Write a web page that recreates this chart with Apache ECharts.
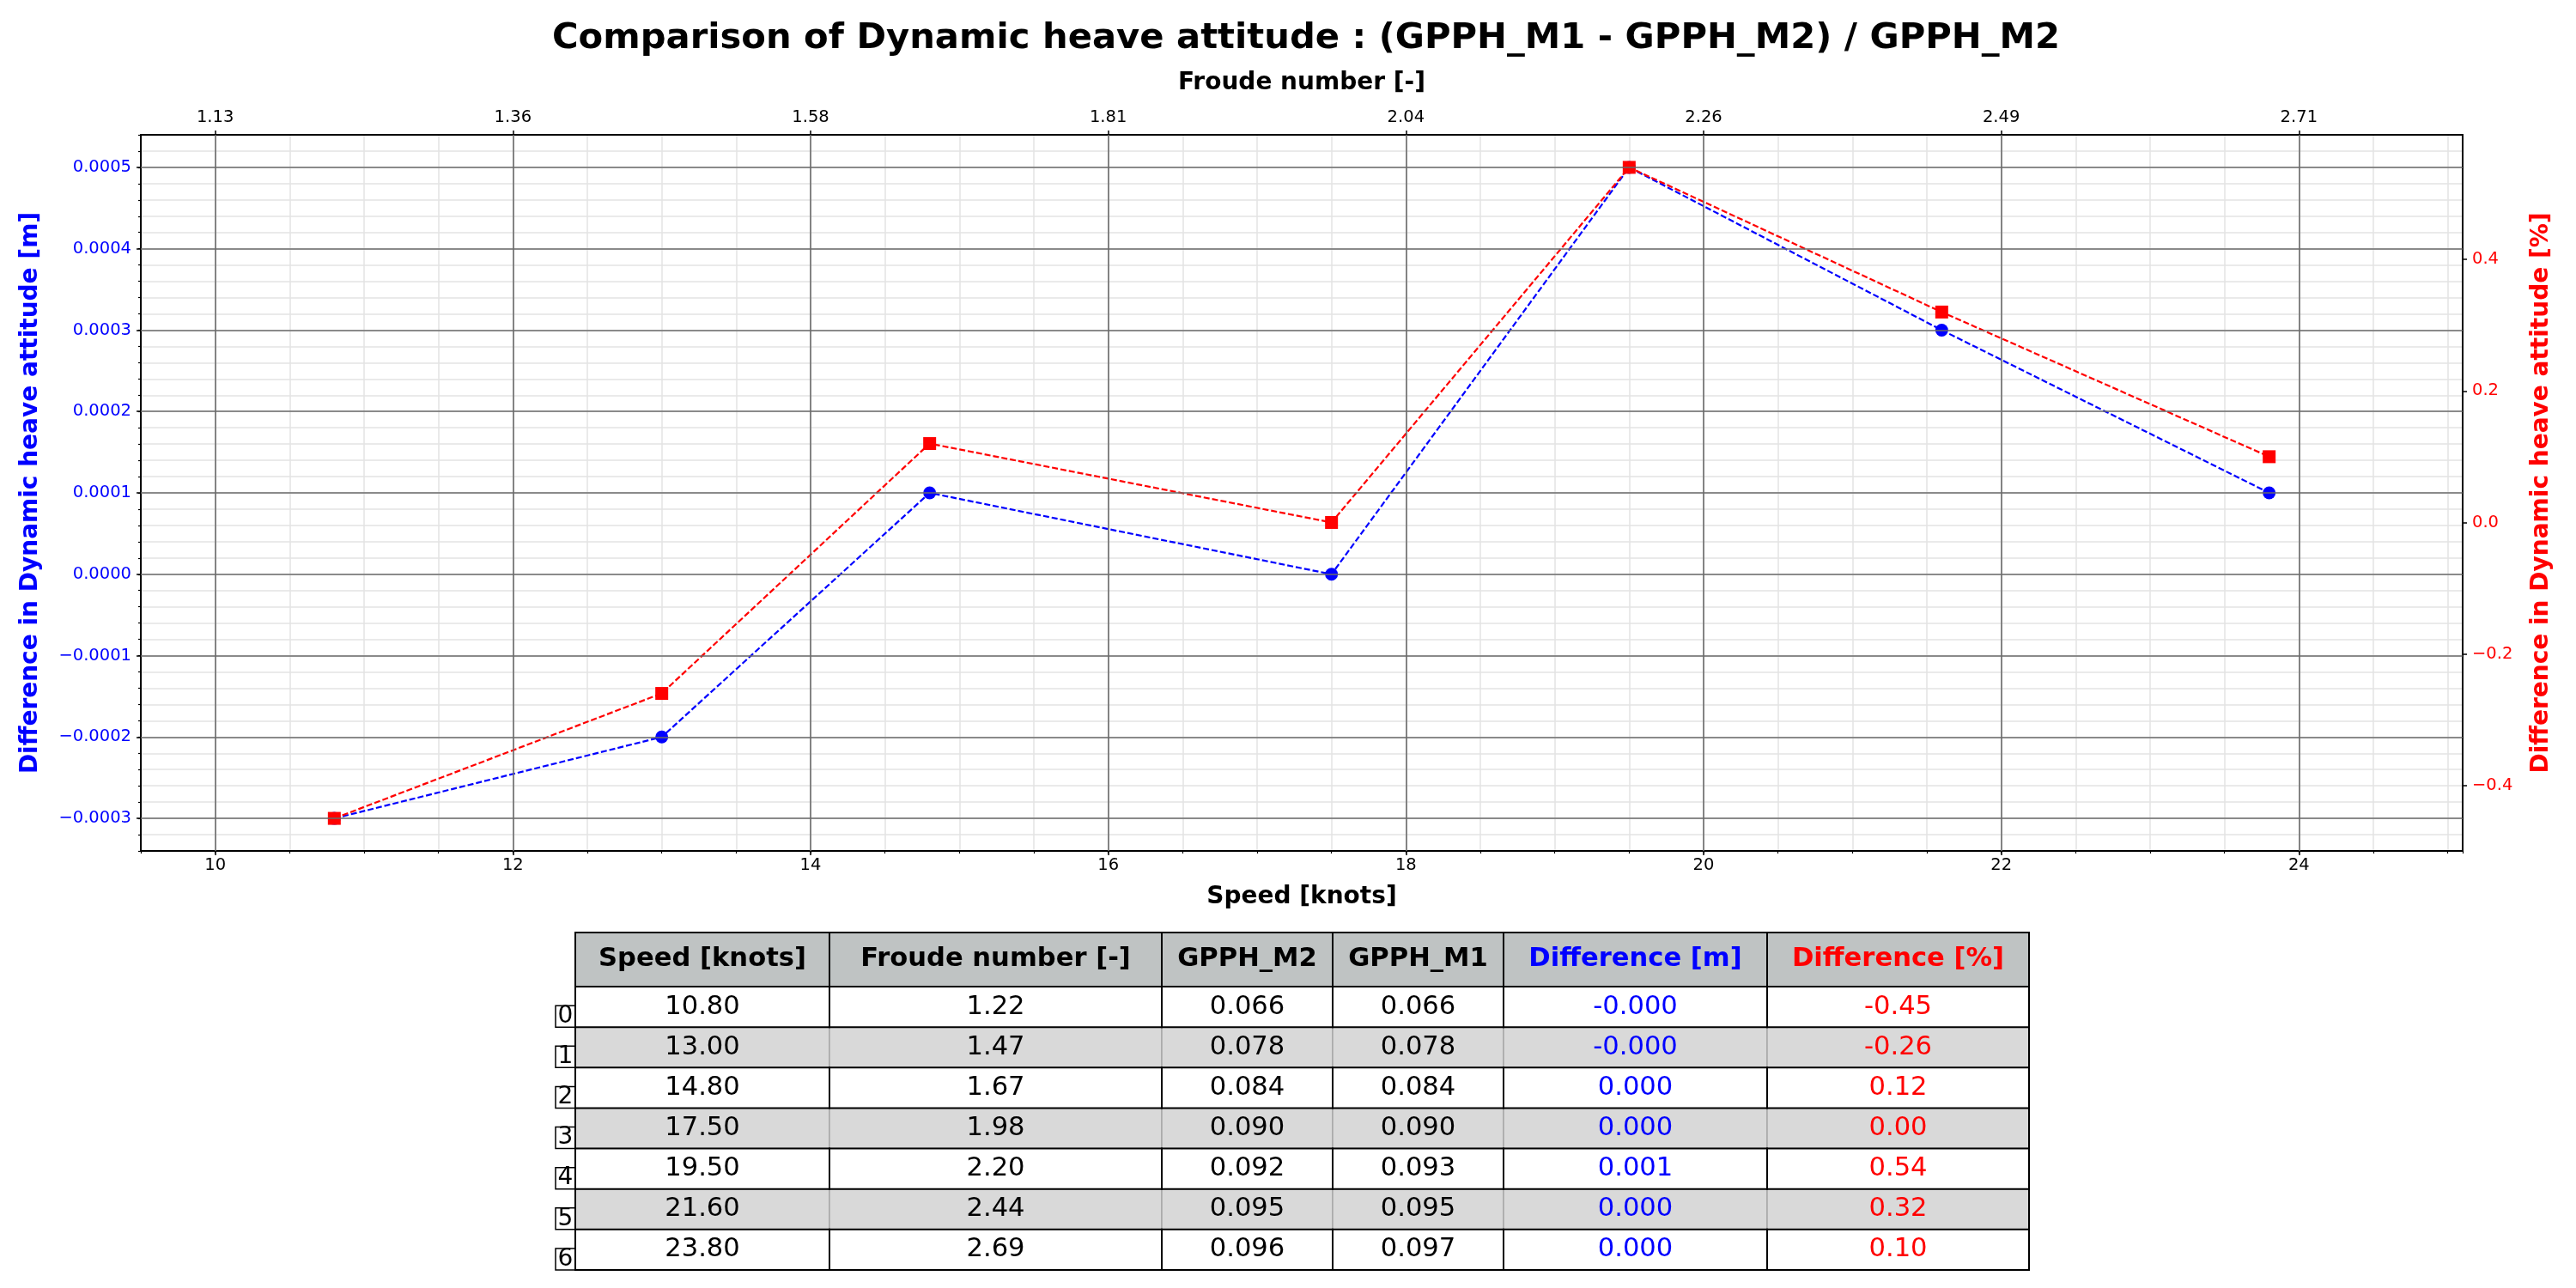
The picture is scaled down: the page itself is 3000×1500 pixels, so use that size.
<!DOCTYPE html>
<html><head><meta charset="utf-8">
<script src="https://cdn.jsdelivr.net/npm/echarts@6/dist/echarts.min.js"></script>
<style>html,body{margin:0;padding:0;background:#fff}#c{width:3000px;height:1500px}</style>
</head><body><div id="c"></div>
<script>
// ---- data ----
const speeds = [10.8, 13.0, 14.8, 17.5, 19.5, 21.6, 23.8];
const froude = [1.22, 1.47, 1.67, 1.98, 2.20, 2.44, 2.69];
const gpphM2 = [0.066, 0.078, 0.084, 0.090, 0.092, 0.095, 0.096];
const gpphM1 = [0.066, 0.078, 0.084, 0.090, 0.093, 0.095, 0.097];
const diffM = [-0.0003, -0.0002, 0.0001, 0.0000, 0.0005, 0.0003, 0.0001];
const diffPct = [-0.45, -0.26, 0.12, 0.00, 0.54, 0.32, 0.10];
const speedTicks = [10, 12, 14, 16, 18, 20, 22, 24];
const froudeTickLabels = ['1.13', '1.36', '1.58', '1.81', '2.04', '2.26', '2.49', '2.71'];
const diffMTicks = [-0.0003, -0.0002, -0.0001, 0, 0.0001, 0.0002, 0.0003, 0.0004, 0.0005];
const diffPctTicks = [-0.4, -0.2, 0, 0.2, 0.4];
const tableHeaders = ['Speed [knots]', 'Froude number [-]', 'GPPH_M2', 'GPPH_M1', 'Difference [m]', 'Difference [%]'];
const rowLabels = ['0', '1', '2', '3', '4', '5', '6'];

// ---- layout / style ----
const FONT = 'DejaVu Sans';
const BLUE = '#0000ff', RED = '#ff0000';
const xMin = 9.5, xMax = 25.1;
const yMin = -0.00034, yMax = 0.00054;
const y2Min = -0.4995, y2Max = 0.5895;
const minus = s => s.replace('-', '\u2212');

const chart = echarts.init(document.getElementById('c'), null, {renderer: 'canvas'});

const tickFont = {fontFamily: FONT, fontSize: 19.5};
const nameFont = {fontFamily: FONT, fontSize: 28, fontWeight: 'bold'};
const spine = {show: true, onZero: false, lineStyle: {color: '#000', width: 2}};

// ---- table graphic ----
const colX = [670, 966, 1353, 1552, 1751, 2058, 2363];
const headTop = 1086, headBottom = 1149, rowH = 47.14;
const colColors = ['#000', '#000', '#000', '#000', BLUE, RED];
const cols = [
  speeds.map(v => v.toFixed(2)),
  froude.map(v => v.toFixed(2)),
  gpphM2.map(v => v.toFixed(3)),
  gpphM1.map(v => v.toFixed(3)),
  diffM.map(v => v.toFixed(3)),
  diffPct.map(v => v.toFixed(2))
];
const els = [];
const TF = 30.6;
function txt(x, y, t, color, bold, size, z) {
  els.push({type: 'text', x: x, y: y, z: z || 20, silent: true,
    style: {text: t, fill: color, font: (bold ? 'bold ' : '') + size + 'px "' + FONT + '"',
      textAlign: 'center', textVerticalAlign: 'middle', align: 'center', verticalAlign: 'middle'}});
}
// header
for (let c = 0; c < 6; c++) {
  els.push({type: 'rect', z: 10, silent: true,
    shape: {x: colX[c], y: headTop, width: colX[c + 1] - colX[c], height: headBottom - headTop},
    style: {fill: '#bfc3c3', stroke: '#000', lineWidth: 2}});
  txt((colX[c] + colX[c + 1]) / 2, (headTop + headBottom) / 2, tableHeaders[c], colColors[c], true, TF);
}
// rows: gray first, then white so that black borders sit on top
const order = [];
rowLabels.forEach((r, i) => { if (i % 2 === 1) order.push(i); });
rowLabels.forEach((r, i) => { if (i % 2 === 0) order.push(i); });
order.forEach(i => {
  const top = headBottom + i * rowH;
  const gray = i % 2 === 1;
  for (let c = 0; c < 6; c++) {
    els.push({type: 'rect', z: gray ? 10 : 11, silent: true,
      shape: {x: colX[c], y: top, width: colX[c + 1] - colX[c], height: rowH},
      style: {fill: gray ? '#d9d9d9' : '#ffffff', stroke: gray ? '#a8a8a8' : '#000', lineWidth: gray ? 1.5 : 2}});
    txt((colX[c] + colX[c + 1]) / 2, top + rowH / 2, cols[c][i], colColors[c], false, TF);
  }
  // row label cell
  els.push({type: 'rect', z: 11, silent: true,
    shape: {x: 647, y: top + rowH - 25, width: 23, height: 25},
    style: {fill: '#fff', stroke: '#000', lineWidth: 1.5}});
  txt(658.5, top + rowH - 12.5, rowLabels[i], '#000', false, 28);
});
// outer frame
els.push({type: 'rect', z: 12, silent: true,
  shape: {x: colX[0], y: headTop, width: colX[6] - colX[0], height: headBottom - headTop + rowH * 7},
  style: {fill: 'none', stroke: '#000', lineWidth: 2}});

const option = {
  animation: false,
  backgroundColor: '#fff',
  title: {
    text: 'Comparison of Dynamic heave attitude : (GPPH_M1 - GPPH_M2) / GPPH_M2',
    left: 1516, top: 19, textAlign: 'center',
    textStyle: {fontFamily: FONT, fontSize: 41.7, fontWeight: 'bold', color: '#000'}
  },
  grid: {left: 164, right: 132, top: 157, bottom: 509, containLabel: false},
  xAxis: [
    {type: 'value', position: 'bottom', min: xMin, max: xMax,
      axisLine: spine,
      axisTick: {show: true, customValues: speedTicks, length: 5, lineStyle: {color: '#000', width: 1.5}},
      axisLabel: {customValues: speedTicks, margin: 7, color: '#000', ...tickFont},
      splitLine: {show: false},
      name: 'Speed [knots]', nameLocation: 'middle', nameGap: 40,
      nameTextStyle: {...nameFont, color: '#000'}},
    {type: 'value', position: 'bottom', min: xMin, max: xMax, interval: 0.5,
      axisLine: {show: false, onZero: false},
      axisTick: {show: true, length: 3, lineStyle: {color: '#000', width: 1.2}},
      axisLabel: {show: false},
      splitLine: {show: true, lineStyle: {color: '#e3e3e3', width: 1.5}}},
    {type: 'value', position: 'top', min: xMin, max: xMax,
      axisLine: spine,
      axisTick: {show: true, customValues: speedTicks, length: 5, lineStyle: {color: '#000', width: 1.5}},
      axisLabel: {customValues: speedTicks, margin: 10, color: '#000', ...tickFont,
        formatter: v => froudeTickLabels[speedTicks.indexOf(Math.round(v))] || ''},
      splitLine: {show: false},
      name: 'Froude number [-]', nameLocation: 'middle', nameGap: 46,
      nameTextStyle: {...nameFont, color: '#000'}}
  ],
  yAxis: [
    {type: 'value', position: 'left', min: yMin, max: yMax,
      axisLine: spine,
      axisTick: {show: true, customValues: diffMTicks, length: 5, lineStyle: {color: '#000', width: 1.5}},
      axisLabel: {customValues: diffMTicks, margin: 11, color: BLUE, ...tickFont,
        formatter: v => minus(v.toFixed(4))},
      splitLine: {show: false},
      name: 'Difference in Dynamic heave attitude [m]', nameLocation: 'middle', nameGap: 114, nameRotate: 90,
      nameTextStyle: {...nameFont, color: BLUE}},
    {type: 'value', position: 'left', min: yMin, max: yMax, interval: 0.00002,
      axisLine: {show: false, onZero: false},
      axisTick: {show: true, length: 3, lineStyle: {color: '#000', width: 1.2}},
      axisLabel: {show: false},
      splitLine: {show: true, lineStyle: {color: '#e3e3e3', width: 1.5}}},
    {type: 'value', position: 'right', min: y2Min, max: y2Max,
      axisLine: spine,
      axisTick: {show: true, customValues: diffPctTicks, length: 5, lineStyle: {color: '#000', width: 1.5}},
      axisLabel: {customValues: diffPctTicks, margin: 11, color: RED, ...tickFont,
        formatter: v => minus(v.toFixed(1))},
      splitLine: {show: false},
      name: 'Difference in Dynamic heave attitude [%]', nameLocation: 'middle', nameGap: 78, nameRotate: 90,
      nameTextStyle: {...nameFont, color: RED}}
  ],
  series: [
    {type: 'line', name: 'major grid x', data: [], xAxisIndex: 0, yAxisIndex: 0, z: 1, silent: true,
      markLine: {silent: true, symbol: ['none', 'none'], label: {show: false}, animation: false,
        precision: 10, emphasis: {disabled: true},
        lineStyle: {color: '#6a6a6a', width: 1.6, type: 'solid'},
        data: speedTicks.map(v => ({xAxis: v}))}},
    {type: 'line', name: 'major grid y', data: [], xAxisIndex: 0, yAxisIndex: 0, z: 1, silent: true,
      markLine: {silent: true, symbol: ['none', 'none'], label: {show: false}, animation: false,
        precision: 10, emphasis: {disabled: true},
        lineStyle: {color: '#6a6a6a', width: 1.6, type: 'solid'},
        data: diffMTicks.map(v => [{coord: [xMin, v]}, {coord: [xMax, v]}])}},
    {type: 'line', name: 'Difference [m]', xAxisIndex: 0, yAxisIndex: 0, z: 3,
      data: speeds.map((s, i) => [s, diffM[i]]),
      symbol: 'circle', symbolSize: 15,
      itemStyle: {color: BLUE},
      lineStyle: {color: BLUE, width: 2.2, type: [7, 3]}},
    {type: 'line', name: 'Difference [%]', xAxisIndex: 0, yAxisIndex: 2, z: 4,
      data: speeds.map((s, i) => [s, diffPct[i]]),
      symbol: 'rect', symbolSize: 15,
      itemStyle: {color: RED},
      lineStyle: {color: RED, width: 2.2, type: [7, 3]}}
  ],
  graphic: {elements: els}
};
chart.setOption(option);
</script>
</body></html>
